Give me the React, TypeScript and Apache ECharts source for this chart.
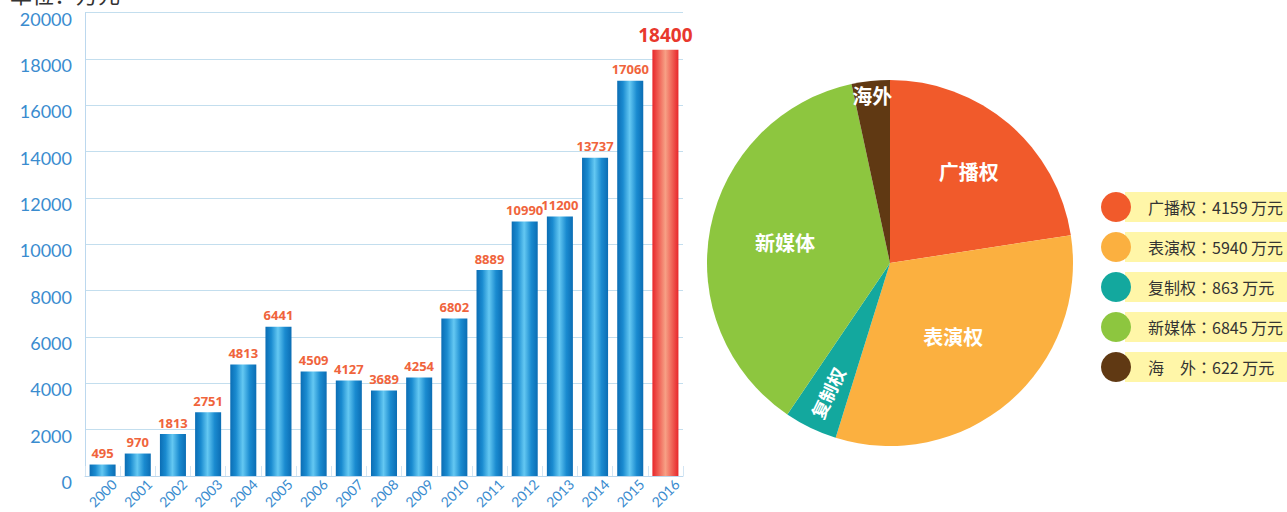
import React, { useEffect, useRef } from 'react';
import * as echarts from 'echarts';

const years = ['2000', '2001', '2002', '2003', '2004', '2005', '2006', '2007', '2008', '2009', '2010', '2011', '2012', '2013', '2014', '2015', '2016'];
const revenue = [495, 970, 1813, 2751, 4813, 6441, 4509, 4127, 3689, 4254, 6802, 8889, 10990, 11200, 13737, 17060, 18400];
const yMin = 0;
const yMax = 20000;
const yInterval = 2000;

const sources = ['广播权', '表演权', '复制权', '新媒体', '海外'];
const sourceValues = [4159, 5940, 863, 6845, 622];
const legendNames = ['广播权', '表演权', '复制权', '新媒体', '海　外'];
const sourceColors = ['#f15a2b', '#fbb040', '#13a89e', '#8dc63f', '#603913'];
// label distance from the pie centre (px), styling only
const labelDist = [121, 97, 144, 107, 168];
const labelRotate: any[] = [0, 0, 'radial', 0, 0];

const PIE_CENTER = [890, 263];
const PIE_R = 183;

const blueGrad = () =>
  new echarts.graphic.LinearGradient(0, 0, 1, 0, [
    { offset: 0, color: '#0b6db4' },
    { offset: 0.22, color: '#1a8bd0' },
    { offset: 0.48, color: '#64c8f2' },
    { offset: 0.75, color: '#1a8bd0' },
    { offset: 1, color: '#0b6db4' },
  ]);
const redGrad = () =>
  new echarts.graphic.LinearGradient(0, 0, 1, 0, [
    { offset: 0, color: '#e8262a' },
    { offset: 0.5, color: '#f7a085' },
    { offset: 1, color: '#e8262a' },
  ]);

export default function App() {
  const ref = useRef<HTMLDivElement>(null);
  useEffect(() => {
    document.body.style.margin = '0';
    if (!ref.current) return;
    const chart = echarts.init(ref.current, null, { renderer: 'svg' });
    const last = revenue.length - 1;
    const barData = revenue.map((v, i) =>
      i === last
        ? {
            value: v,
            itemStyle: { color: redGrad() },
            label: { fontSize: 19, color: '#e8382d' },
          }
        : { value: v, itemStyle: { color: blueGrad() } }
    );

    const pieData = sources.map((n, i) => ({ name: n, value: sourceValues[i], itemStyle: { color: sourceColors[i] } }));

    const labelSeries = sources.map((_, i) => {
      const d = labelDist[i] - 3;
      return {
        type: 'pie',
        center: PIE_CENTER,
        radius: [Math.max(0, d - 25), d + 25],
        startAngle: 90,
        silent: true,
        legendHoverLink: false,
        avoidLabelOverlap: false,
        z: 5,
        itemStyle: { color: 'rgba(0,0,0,0)' },
        labelLine: { show: false },
        emphasis: { disabled: true },
        data: sources.map((n, j) => ({
          name: n,
          value: sourceValues[j],
          itemStyle: { color: 'rgba(0,0,0,0)' },
          label: {
            show: j === i,
            position: 'inside',
            rotate: labelRotate[i],
            color: '#ffffff',
            fontSize: i === 2 ? 18 : 20,
            fontWeight: 'bold',
            fontFamily: 'Noto Sans CJK SC',
            formatter: '{b}',
          },
        })),
      };
    });

    chart.setOption({
      animation: false,
      graphic: [
        {
          type: 'text',
          left: 10,
          top: -18,
          style: { text: '单位：万元', fontSize: 22, fill: '#333', fontFamily: 'Noto Sans CJK SC' },
        },
      ],
      grid: { left: 85, right: 604, top: 12.7, bottom: 36, containLabel: false, outerBoundsMode: 'none' },
      xAxis: {
        type: 'category',
        data: years,
        axisLine: { lineStyle: { color: '#bcd8ee', width: 1 } },
        axisTick: { show: true, inside: true, length: 10, lineStyle: { color: '#d3e5f3' } },
        axisLabel: {
          rotate: 45,
          align: 'center',
          verticalAlign: 'middle',
          margin: 17,
          color: '#3a8ccf',
          fontSize: 14,
          fontFamily: 'Lato',
          interval: 0,
        },
      },
      yAxis: {
        type: 'value',
        min: yMin,
        max: yMax,
        interval: yInterval,
        axisLine: { show: true, lineStyle: { color: '#bcd8ee' } },
        axisTick: { show: false },
        splitLine: { lineStyle: { color: '#c3deee' } },
        axisLabel: {
          color: '#3a8ccf',
          fontSize: 18,
          fontFamily: 'Lato',
          margin: 13,
          verticalAlign: 'top',
          lineHeight: 12,
          formatter: (v: number) => String(v),
        },
      },
      legend: [
        {
          orient: 'vertical',
          left: 1125,
          top: 192,
          padding: 0,
          icon: 'rect',
          itemWidth: 200,
          itemHeight: 30,
          itemGap: 10,
          selectedMode: false,
          z: 1,
          itemStyle: { color: '#fff6a8' },
          data: sources,
          formatter: () => '',
          textStyle: { fontSize: 1 },
        },
        {
          orient: 'vertical',
          left: 1101,
          top: 192,
          padding: 0,
          icon: 'circle',
          itemWidth: 30,
          itemHeight: 30,
          itemGap: 10,
          selectedMode: false,
          z: 3,
          data: sources,
          formatter: (name: string) => {
            const i = sources.indexOf(name);
            return `{t|${legendNames[i]}}{c|：}{v|${sourceValues[i]} 万元}`;
          },
          textStyle: {
            rich: {
              t: { fontSize: 16, color: '#333', fontFamily: 'Noto Sans CJK SC', padding: [0, 0, 0, 12] },
              c: { fontSize: 16, color: '#333', fontFamily: 'Noto Sans CJK TC' },
              v: { fontSize: 16, color: '#333', fontFamily: 'Noto Sans CJK SC' },
            },
          },
        },
      ],
      series: [
        {
          type: 'bar',
          data: barData,
          barWidth: '74%',
          label: {
            show: true,
            position: 'top',
            distance: 5,
            color: '#f0643c',
            fontSize: 13,
            fontWeight: 'bold',
            fontFamily: 'Noto Sans',
          },
        },
        {
          type: 'pie',
          center: PIE_CENTER,
          radius: [0, PIE_R],
          startAngle: 90,
          label: { show: false },
          labelLine: { show: false },
          data: pieData,
        },
        ...labelSeries,
      ],
    });
    return () => chart.dispose();
  }, []);
  return <div ref={ref} style={{ width: 1287, height: 512 }} />;
}
